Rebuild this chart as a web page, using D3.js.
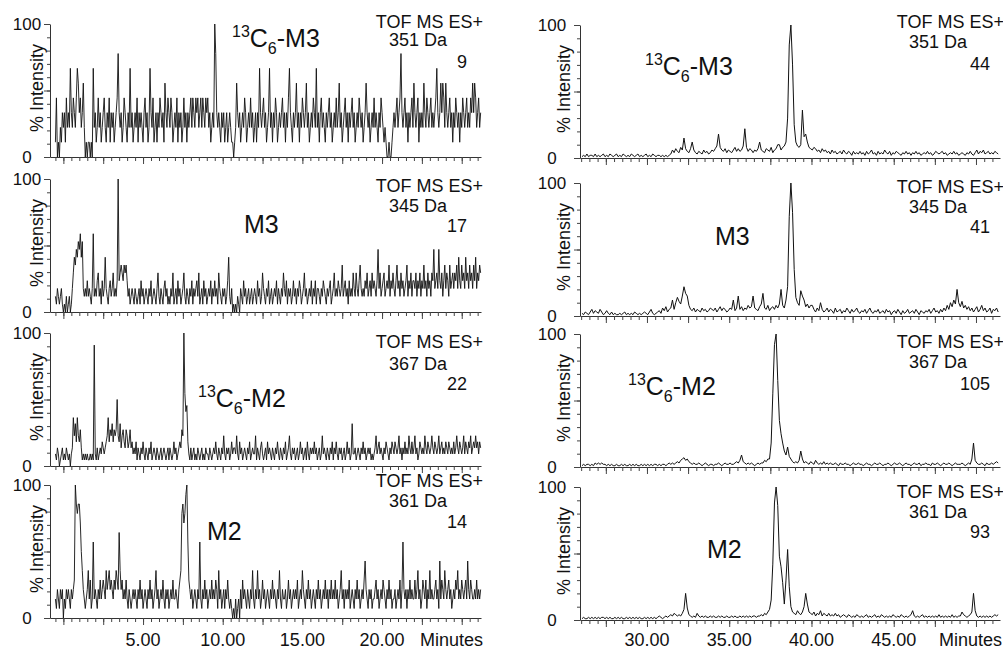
<!DOCTYPE html>
<html><head><meta charset="utf-8">
<script src="https://cdn.jsdelivr.net/npm/d3@7"></script>
<style>
body{margin:0;background:#fff}
svg{display:block}
text{font-family:"Liberation Sans",Arial,Helvetica,sans-serif;fill:#111}
</style>
</head><body>
<svg id="c" width="1003" height="649"></svg>
<script>
// ---------------- DATA ----------------
const compounds = ["13C6-M3", "M3", "13C6-M2", "M2"];
const masses = ["351 Da", "345 Da", "367 Da", "361 Da"];
const instrument = "TOF MS ES+";
const leftCounts = [9, 17, 22, 14];      // max ion counts (left run)
const rightCounts = [44, 41, 105, 93];   // max ion counts (right run)
const leftTickLabels = [5, 10, 15, 20];
const rightTickLabels = [30, 35, 40, 45];
const yTickLabels = [0, 100];
const axisTitleX = "Minutes";
const axisTitleY = "% Intensity";
const leftStart = -0.5, leftStep = 0.0625;  // minutes
const rightStart = 26.05, rightStep = 0.1;  // minutes

// left run: raw counts per scan
const left351 = [
 1,4,0,1,0,2,1,3,2,3,1,4,2,3,2,6,3,2,4,3,
 2,4,6,5,3,4,2,3,5,2,0,1,0,1,1,0,1,0,6,2,
 3,1,2,4,2,3,1,2,3,4,2,1,3,2,4,1,3,2,3,1,
 2,3,4,7,3,2,3,1,2,4,3,2,1,3,2,6,2,3,1,2,
 3,2,4,1,3,2,3,2,1,3,4,2,3,1,2,6,3,2,4,1,
 2,3,1,3,2,4,3,2,3,1,5,3,2,4,3,2,4,3,1,2,
 3,2,4,1,3,2,3,1,2,4,2,3,1,3,2,3,4,2,4,3,
 2,4,3,4,2,3,4,2,4,3,2,4,3,4,2,3,1,2,3,2,
 9,7,3,2,3,2,1,3,2,3,1,2,3,1,2,3,2,1,1,0,
 1,2,5,3,2,3,1,2,3,2,4,3,1,2,3,2,4,2,3,1,
 2,3,1,3,2,6,3,2,3,4,2,3,1,2,3,6,2,3,1,3,
 2,4,3,1,2,3,2,3,4,2,3,1,3,2,4,6,3,2,1,3,
 2,3,5,2,3,1,3,2,4,3,2,3,5,2,3,1,2,3,2,4,
 3,2,6,2,3,1,3,4,2,3,2,1,3,2,3,4,2,3,1,2,
 3,2,4,2,3,5,2,3,1,2,3,4,2,3,1,3,2,3,4,2,
 3,1,2,3,2,4,3,2,3,1,2,3,5,3,2,3,1,2,3,2,
 4,2,3,2,1,3,2,4,3,2,1,2,1,0,0,1,0,0,1,2,
 3,2,3,4,2,3,4,7,3,2,3,4,2,3,1,3,2,3,4,2,
 5,3,2,3,4,1,3,2,3,2,5,3,2,4,3,2,3,4,2,3,
 2,3,4,6,3,2,3,5,3,5,4,2,5,3,2,3,4,2,3,1,
 3,2,4,3,2,3,1,3,2,4,3,2,3,4,2,3,2,4,3,5,
 3,5,4,2,3,4,2,3];
const left345 = [
 2,1,3,2,1,2,3,1,0,1,0,2,0,1,2,0,1,3,5,7,
 6,8,7,9,8,10,7,9,3,2,3,2,4,2,3,2,1,3,10,2,
 3,2,4,5,2,3,1,4,2,3,7,3,2,1,3,4,2,3,5,2,
 3,2,4,17,4,5,6,5,4,6,5,6,4,2,3,1,2,3,2,1,
 3,2,1,2,3,1,4,2,3,1,2,3,2,1,3,2,4,1,2,3,
 2,1,3,5,2,1,3,2,1,3,4,2,3,1,2,1,3,2,5,1,
 2,3,1,4,2,3,1,2,3,5,2,1,3,2,1,3,2,4,1,3,
 2,3,4,2,5,1,2,3,1,4,2,3,1,2,3,2,4,1,3,2,
 4,2,3,1,5,3,2,1,3,2,3,1,2,4,7,2,1,3,0,1,
 0,1,0,2,1,0,3,2,1,4,2,3,1,2,3,1,2,3,1,2,
 3,2,1,4,2,3,1,2,5,3,2,1,3,2,4,1,2,3,1,2,
 3,2,4,1,3,2,1,3,2,5,3,2,4,1,3,2,3,1,2,4,
 2,3,1,3,2,4,3,1,2,3,5,2,3,1,2,3,2,4,1,3,
 2,4,1,3,3,2,1,3,2,4,3,2,1,3,2,3,4,1,2,3,
 5,2,3,2,4,3,2,3,6,2,3,4,2,3,1,4,2,3,2,5,
 3,2,5,3,2,4,6,3,2,3,2,4,3,5,2,3,4,2,5,3,
 4,3,2,4,8,3,5,2,3,4,5,2,3,4,3,6,2,4,3,5,
 3,2,4,6,3,4,2,5,3,4,2,3,4,6,2,4,3,5,2,4,
 4,3,5,2,4,3,5,2,4,3,6,3,4,2,5,3,4,2,5,4,
 8,3,4,5,3,8,4,3,5,2,4,6,3,5,4,2,6,3,4,5,
 3,5,4,6,3,7,4,3,6,4,5,3,7,4,5,3,6,4,5,3,
 6,4,7,3,5,4,6,5];
const left367 = [
 2,1,3,2,0,1,2,3,1,2,1,3,2,1,2,0,2,3,8,5,
 7,4,8,5,4,6,3,1,2,1,2,1,2,1,1,2,1,2,1,20,
 2,1,3,1,2,3,2,4,3,2,3,4,5,8,4,6,5,7,4,6,
 5,6,11,5,4,7,3,5,6,4,3,6,5,3,4,6,3,4,2,3,
 2,4,1,3,2,1,3,2,4,2,1,3,2,1,3,2,4,1,2,3,
 2,1,3,2,1,2,3,1,2,3,2,1,2,3,1,3,2,1,2,4,
 2,3,1,2,3,4,3,6,5,22,12,9,10,4,2,1,3,1,2,3,
 1,2,1,3,2,1,2,3,1,2,1,3,2,2,1,3,2,1,2,3,
 2,4,2,1,3,2,1,3,2,5,2,1,3,2,3,1,2,4,2,3,
 3,2,5,2,1,4,2,3,1,2,3,2,1,3,2,4,1,2,3,2,
 2,5,1,3,2,1,3,4,2,1,2,3,1,4,2,3,2,1,3,2,
 1,3,2,4,2,1,3,2,1,3,2,4,1,2,3,5,2,1,3,2,
 3,1,2,3,1,2,4,2,3,1,2,3,1,4,2,1,3,2,3,2,
 4,2,3,1,2,3,1,2,5,2,3,2,1,3,2,1,3,2,4,1,
 3,2,4,2,1,3,2,3,1,2,3,1,2,4,2,3,1,2,7,2,
 2,3,1,2,3,2,1,3,2,4,2,3,1,2,3,2,3,1,2,1,
 2,3,5,2,3,4,2,3,2,1,3,2,4,3,2,1,3,2,4,3,
 2,4,3,2,3,5,2,3,1,3,2,4,2,3,2,5,3,2,4,2,
 3,5,2,3,1,2,4,3,2,3,2,5,3,2,4,3,2,3,5,3,
 2,4,3,2,3,5,2,3,4,2,3,2,4,3,2,4,3,2,3,2,
 4,2,3,5,3,2,4,3,2,3,5,2,4,3,2,4,3,5,2,3,
 4,3,5,3,4,2,4,3];
const left361 = [
 2,1,3,2,1,3,2,3,0,2,1,3,2,3,2,1,3,2,3,4,
 14,12,11,12,12,10,7,5,3,2,1,2,3,5,2,4,1,2,8,2,
 3,2,1,3,2,4,2,3,4,3,2,5,3,4,5,3,4,3,2,4,
 3,5,4,3,9,5,3,4,2,3,2,4,2,1,3,2,1,2,3,2,
 3,2,1,3,2,4,2,3,1,2,3,2,1,3,2,4,2,3,1,2,
 3,5,2,3,1,2,3,2,4,2,1,3,2,3,1,2,3,2,4,2,
 2,3,2,1,3,4,5,11,12,10,11,13,14,8,4,3,2,3,1,2,
 3,2,1,3,2,8,2,1,3,2,4,2,3,1,2,3,2,4,2,3,
 2,4,3,1,5,2,3,1,2,3,1,3,2,4,2,1,2,1,0,1,
 0,2,0,1,2,0,3,1,4,2,3,2,1,3,2,1,3,2,5,2,
 1,3,2,5,2,3,1,2,4,2,3,1,2,3,2,1,3,2,4,2,
 3,2,1,3,2,5,2,1,3,2,2,3,1,2,4,2,3,1,2,3,
 2,3,2,4,1,2,3,2,5,3,2,1,3,2,4,2,3,1,2,3,
 2,1,3,2,4,2,3,1,2,3,2,4,2,3,1,3,2,4,2,3,
 2,4,2,3,1,2,3,5,2,3,1,3,2,3,2,4,1,2,3,2,
 1,3,2,4,2,3,1,2,3,2,4,6,3,2,1,3,2,3,1,2,
 2,3,4,2,3,1,2,3,2,4,3,2,1,3,2,4,2,3,1,2,
 2,3,1,2,3,2,4,1,3,8,3,2,3,1,3,2,4,2,3,2,
 2,4,2,3,5,2,3,1,2,4,3,2,4,1,3,2,5,2,3,2,
 2,3,4,2,3,1,6,2,4,3,2,5,3,2,3,4,2,3,1,2,
 3,2,4,3,5,2,3,2,4,3,2,3,4,2,6,3,2,4,3,2,
 2,3,2,4,2,3,2,3];

// right run: % intensity per scan
const right351 = [1,2,1,3,1,2,2,1,3,1, 2,1,2,3,1,2,1,3,2,1, 2,3,1,2,1,3,2,1,2,1, 3,2,1,2,3,1,2,1,2,3,
 1,2,1,3,2,1,2,2,1,2, 1,2,1,2,3,6,4,7,5,4, 8,6,15,7,5,4,7,12,6,4, 3,5,4,3,6,4,5,3,4,6,
 5,7,9,18,8,6,5,7,4,6, 5,4,6,8,5,7,5,6,9,22, 8,5,7,6,4,6,5,7,12,6, 5,4,7,6,5,8,4,6,7,10,
 10,6,8,9,12,30,85,100,70,25, 12,9,8,10,36,16,18,12,8,7, 6,8,7,5,6,4,7,5,6,4, 5,3,6,4,5,3,4,5,3,6,
 4,3,5,4,2,5,3,4,3,5, 3,4,2,5,3,4,6,3,4,2, 5,3,4,3,6,4,3,5,2,4, 3,5,4,3,2,4,3,5,3,4,
 2,4,3,5,3,4,2,3,4,3, 5,3,4,2,3,5,4,3,4,5, 3,4,2,3,4,3,5,3,4,2, 3,4,3,2,4,3,5,3,2,4,
 6,3,5,4,6,3,4,5,3,4, 3,5,4,3];
const right345 = [2,1,3,2,1,3,5,2,4,3, 2,5,3,1,2,4,2,1,3,1, 2,1,1,2,1,2,3,1,2,1, 2,1,3,2,1,2,1,2,3,2,
 1,3,5,2,1,2,3,4,2,6, 4,7,3,5,6,12,5,10,14,11, 9,15,22,17,15,8,5,4,6,3, 5,4,3,6,4,5,3,4,6,5,
 4,6,3,5,7,4,6,5,3,4, 6,5,12,4,6,15,5,7,4,6, 5,8,6,7,15,6,5,4,7,9, 17,6,5,8,4,6,7,5,8,6,
 9,20,8,6,12,22,75,100,78,35, 14,10,8,19,15,12,7,9,6,8, 8,5,3,6,4,10,5,3,4,6, 3,5,4,2,6,3,4,5,2,4,
 3,6,4,2,5,3,4,6,3,2, 4,3,5,2,4,6,3,2,4,3, 5,2,3,4,2,5,3,4,1,3, 4,2,5,3,1,4,2,3,5,2,
 3,4,2,5,3,1,4,3,2,4, 3,5,2,4,6,3,4,2,5,3, 6,4,8,5,10,7,12,9,20,10, 7,11,6,8,5,7,4,6,3,5,
 7,3,5,8,4,6,3,4,6,2, 5,4,6,3];
const right367 = [1,2,1,2,2,1,2,1,3,2, 3,2,3,2,2,1,2,1,2,1, 1,2,1,1,2,1,2,1,1,2, 1,2,1,2,1,1,2,1,2,1,
 2,1,2,1,2,2,1,2,1,2, 2,1,2,3,2,3,2,3,4,3, 5,6,7,5,6,4,3,2,3,2, 2,3,2,1,2,3,2,1,2,2,
 1,2,2,3,2,1,2,3,2,2, 3,2,2,3,4,3,5,9,4,3, 2,3,2,3,2,1,2,3,2,3, 3,5,4,6,6,18,55,92,100,65,
 35,25,18,12,9,15,8,6,4,3, 4,3,5,12,6,3,4,3,2,4, 3,2,5,3,2,3,2,4,2,3, 2,3,2,2,3,2,1,3,2,2,
 3,2,2,1,2,3,2,2,3,2, 2,1,2,3,2,2,1,2,3,2, 2,3,2,1,2,2,3,2,1,2, 3,2,2,3,2,1,2,3,2,2,
 1,2,3,2,2,3,1,2,2,3, 2,2,1,3,2,2,3,2,1,2, 3,2,2,3,2,1,2,3,2,2, 2,3,2,1,2,3,2,6,18,5,
 3,2,2,3,2,1,3,2,2,3, 2,3,4,3];
const right361 = [1,2,1,1,2,1,2,1,2,1, 2,1,2,2,1,2,1,2,1,1, 2,1,2,1,2,1,1,2,1,2, 1,2,1,2,1,2,1,1,2,1,
 2,1,2,1,2,1,2,3,2,1, 2,3,2,3,4,3,5,4,3,4, 3,5,8,20,9,4,3,2,3,2, 5,3,2,3,2,3,2,2,3,2,
 3,2,2,3,2,3,2,2,3,2, 2,3,2,3,2,2,3,2,3,2, 3,2,3,2,3,3,2,3,3,4, 3,5,4,6,8,15,42,88,100,86,
 48,40,28,12,30,53,25,10,6,5, 4,7,5,4,6,10,20,12,6,5, 4,6,3,5,4,7,3,5,4,3, 5,3,4,3,5,3,4,2,3,4,
 3,2,4,3,2,3,2,4,3,2, 3,2,3,4,2,3,2,3,4,2, 3,2,4,3,2,3,2,3,2,4, 3,2,3,2,4,3,2,3,2,3,
 4,7,3,2,3,2,3,4,2,3, 2,3,2,3,2,3,2,4,2,3, 2,3,2,3,2,4,2,3,2,3, 3,6,4,3,2,3,4,6,20,7,
 3,2,3,2,3,2,3,2,3,2, 3,4,3,4];

// ---------------- LAYOUT ----------------
const W = 1003, Hsvg = 649, PH = 133;
const columns = [
  { x0: 50, x1: 481, domain: [-0.84, 26.21], tops: [24, 179, 333, 485], labCx: 27, yTitleX: 37,
    series: [left351, left345, left367, left361], scaleMax: leftCounts, counts: leftCounts,
    start: leftStart, step: leftStep, tickLabels: leftTickLabels, lineW: 0.9,
    tofX: 483, daX: 447, cntX: 467,
    textY: [[28, 46, 68], [192, 212, 232], [348, 370, 390], [487, 507, 528]],
    comp: [[232, 47], [244, 233], [198, 407], [207, 540]], minutesX: 483 },
  { x0: 580, x1: 1000, domain: [25.93, 51.46], tops: [25, 183, 334, 487], labCx: 552, yTitleX: 564,
    series: [right351, right345, right367, right361], scaleMax: [100, 100, 100, 100], counts: rightCounts,
    start: rightStart, step: rightStep, tickLabels: rightTickLabels, lineW: 1,
    tofX: 1004, daX: 967, cntX: 990,
    textY: [[28, 48, 70], [193, 213, 233], [348, 368, 390], [498, 518, 538]],
    comp: [[645, 75], [715, 245], [628, 395], [707, 558]], minutesX: 1002 }
];

const svg = d3.select("#c");
svg.append("rect").attr("width", W).attr("height", Hsvg).attr("fill", "#fff");

function styleAxis(sel) {
  sel.select(".domain").attr("stroke", "#333").attr("stroke-width", 1);
  sel.selectAll(".tick line").attr("stroke", "#444").attr("stroke-width", 1);
}

function compoundLabel(g, text, x0, y0) {
  const t = g.append("text").attr("x", x0).attr("y", y0).attr("font-size", 25);
  if (text.startsWith("13C6")) {
    t.append("tspan").attr("font-size", 16).attr("dy", -10).text("13");
    t.append("tspan").attr("dy", 10).text("C");
    t.append("tspan").attr("font-size", 16).attr("dy", 7).text("6");
    t.append("tspan").attr("dy", -7).text(text.slice(4));
  } else {
    t.text(text);
  }
}

columns.forEach(col => {
  const x = d3.scaleLinear().domain(col.domain).range([col.x0, col.x1]);
  const minorT = d3.range(Math.ceil(col.domain[0] * 2) / 2, col.domain[1], 0.5);
  const midT = minorT.filter(v => Math.abs(v / 2.5 - Math.round(v / 2.5)) < 1e-6);
  col.tops.forEach((top, k) => {
    const bottom = top + PH;
    const y = d3.scaleLinear().domain([0, 100]).range([bottom, top]);
    const g = svg.append("g");

    // y axis
    g.append("g").attr("transform", `translate(${col.x0},0)`)
      .call(d3.axisLeft(y).tickValues(d3.range(0, 101, 10)).tickSize(3).tickSizeOuter(0).tickFormat(""))
      .call(styleAxis);
    g.append("g").attr("transform", `translate(${col.x0},0)`)
      .call(d3.axisLeft(y).tickValues([0, 50, 100]).tickSize(6).tickSizeOuter(0).tickFormat(""))
      .call(styleAxis).call(s => s.select(".domain").remove());

    // x axis
    g.append("g").attr("transform", `translate(0,${bottom})`)
      .call(d3.axisBottom(x).tickValues(minorT).tickSize(4).tickSizeOuter(0).tickFormat(""))
      .call(styleAxis);
    g.append("g").attr("transform", `translate(0,${bottom})`)
      .call(d3.axisBottom(x).tickValues(midT).tickSize(7).tickSizeOuter(0).tickFormat(""))
      .call(styleAxis).call(s => s.select(".domain").remove());

    // y tick labels
    yTickLabels.forEach(v => {
      g.append("text").attr("x", col.labCx).attr("y", y(v)).attr("dy", "0.36em")
        .attr("text-anchor", "middle").attr("font-size", 17).text(v);
    });
    g.append("text")
      .attr("transform", `translate(${col.yTitleX},${top + 64}) rotate(-90)`)
      .attr("text-anchor", "middle").attr("dy", "0.36em").attr("font-size", 18).text(axisTitleY);

    // trace
    const data = col.series[k];
    const maxV = col.scaleMax[k];
    const line = d3.line()
      .x((d, i) => x(col.start + col.step * i))
      .y(d => y(d / maxV * 100));
    g.append("path").datum(data).attr("d", line)
      .attr("fill", "none").attr("stroke", "#111").attr("stroke-width", col.lineW)
      .attr("stroke-linejoin", "miter");

    // annotations
    const ty = col.textY[k];
    g.append("text").attr("x", col.tofX).attr("y", ty[0]).attr("text-anchor", "end").attr("font-size", 18).text(instrument);
    g.append("text").attr("x", col.daX).attr("y", ty[1]).attr("text-anchor", "end").attr("font-size", 18).text(masses[k]);
    g.append("text").attr("x", col.cntX).attr("y", ty[2]).attr("text-anchor", "end").attr("font-size", 18).text(col.counts[k]);
    compoundLabel(g, compounds[k], col.comp[k][0], col.comp[k][1]);

    // bottom axis labels
    if (k === col.tops.length - 1) {
      col.tickLabels.forEach(v => {
        g.append("text").attr("x", x(v)).attr("y", 646).attr("text-anchor", "middle")
          .attr("font-size", 18).text(d3.format(".2f")(v));
      });
      g.append("text").attr("x", col.minutesX).attr("y", 646).attr("text-anchor", "end")
        .attr("font-size", 18).text(axisTitleX);
    }
  });
});
</script>
</body></html>
